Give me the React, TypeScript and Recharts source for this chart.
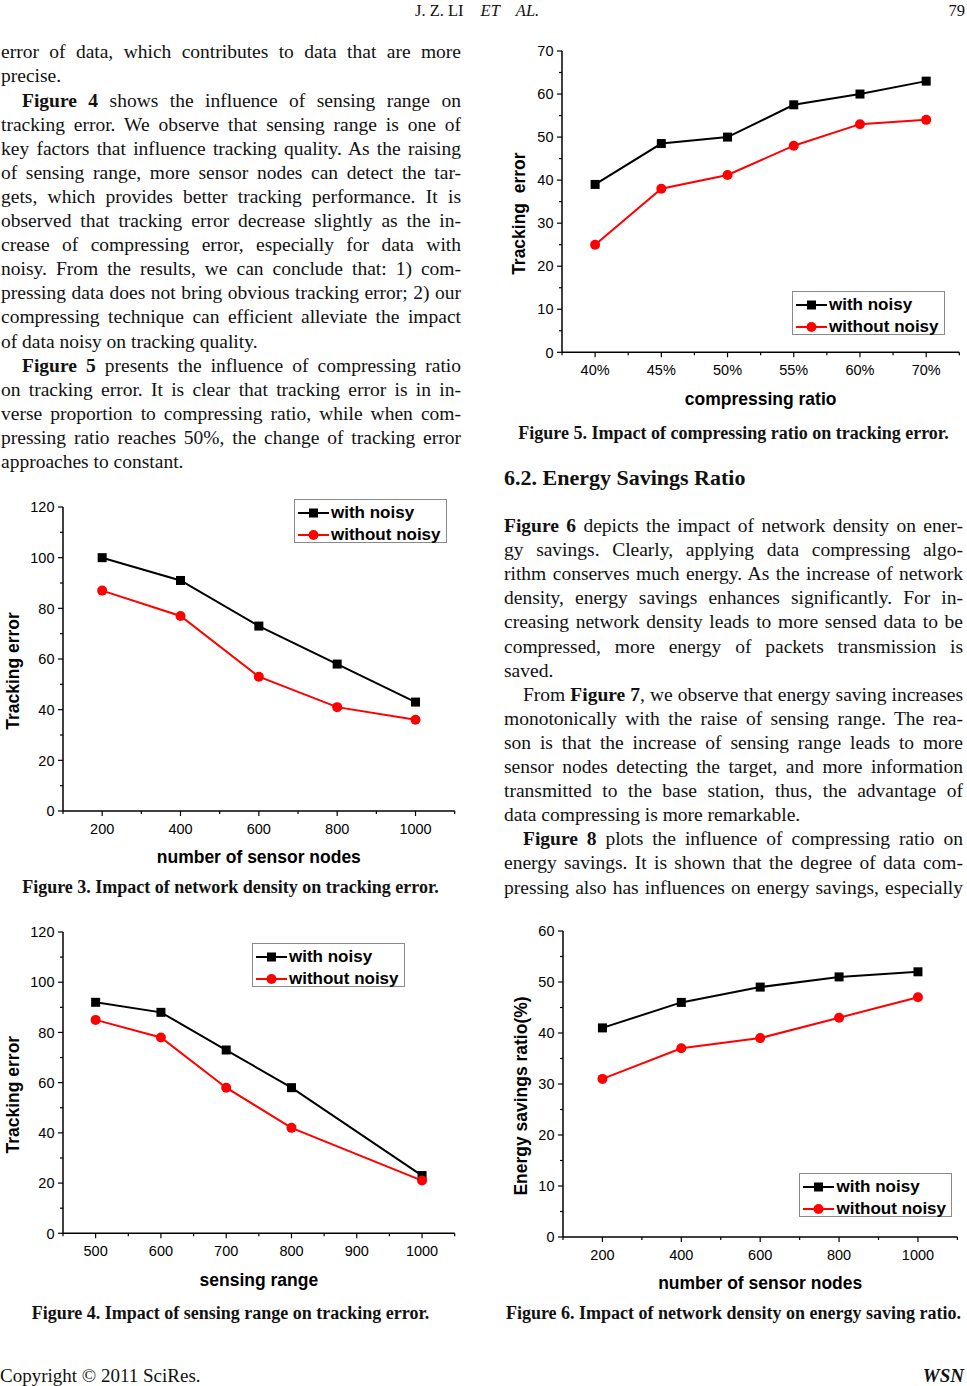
import React from "react"
import { LineChart, Line, XAxis, YAxis, Legend, Label } from "recharts"

const SANS = '"Liberation Sans", Arial, sans-serif'
const SERIF = '"Liberation Serif", "Times New Roman", serif'

// ---- data ----
const nodeCounts = [200, 400, 600, 800, 1000]
const fig3WithNoisy = [100, 91, 73, 58, 43]
const fig3WithoutNoisy = [87, 77, 53, 41, 36]

const sensingRanges = [500, 600, 700, 800, 1000]
const fig4WithNoisy = [92, 88, 73, 58, 23]
const fig4WithoutNoisy = [85, 78, 58, 42, 21]

const ratioLabels = ["40%", "45%", "50%", "55%", "60%", "70%"]
const fig5WithNoisy = [39, 48.5, 50, 57.5, 60, 63]
const fig5WithoutNoisy = [25, 38, 41.2, 48, 53, 54]

const fig6WithNoisy = [41, 46, 49, 51, 52]
const fig6WithoutNoisy = [31, 37, 39, 43, 47]

const SERIES = [
  { key: "withNoisy", name: "with noisy", color: "#000000", marker: "square" },
  { key: "withoutNoisy", name: "without noisy", color: "#ff0000", marker: "circle" },
]

function buildRows(xs: number[], a: number[], b: number[]) {
  return xs.map((x, i) => ({ x, withNoisy: a[i], withoutNoisy: b[i] }))
}

const range = (from: number, to: number, step: number) => {
  const out: number[] = []
  for (let v = from; v <= to + 1e-9; v += step) out.push(Math.round(v * 100) / 100)
  return out
}

// chart box padding around the plot area (px)
const PAD_L = 60
const PAD_T = 20
const PAD_R = 10
const PAD_B = 62

function Marker({ cx, cy, kind, color }: any) {
  if (cx == null || cy == null) return null
  if (kind === "square")
    return <rect x={cx - 4.5} y={cy - 4.5} width={9} height={9} fill={color} />
  return <circle cx={cx} cy={cy} r={5} fill={color} />
}

function NoisyLegend() {
  return (
    <div
      style={{
        position: "relative",
        width: 153,
        height: 44,
        border: "1px solid #8a8a8a",
        boxSizing: "border-box",
        background: "#fff",
        fontFamily: SANS,
        fontWeight: 700,
        fontSize: 17,
        color: "#000",
      }}
    >
      {SERIES.map((s, i) => (
        <div
          key={s.key}
          style={{ position: "absolute", left: 0, top: i === 0 ? 1.5 : 23.5, height: 22, width: 151 }}
        >
          <svg width={34} height={22} style={{ position: "absolute", left: 2, top: 0 }}>
            <line x1={1} x2={32} y1={11} y2={11} stroke={s.color} strokeWidth={2} />
            <Marker cx={16.5} cy={11} kind={s.marker} color={s.color} />
          </svg>
          <span style={{ position: "absolute", left: 36, top: 0, lineHeight: "22px", whiteSpace: "nowrap" }}>
            {s.name}
          </span>
        </div>
      ))}
    </div>
  )
}

interface PanelProps {
  plot: { l: number; t: number; r: number; b: number }
  data: any[]
  xDomain: [number, number]
  xTicks: number[]
  xMajor: number[]
  xFormat?: (v: number) => string
  yDomain: [number, number]
  yTicks: number[]
  yMajor: number[]
  xTitle: string
  yTitle: string
  yTitleGap: number
  legend: { l: number; t: number }
}

function Panel(p: PanelProps) {
  const boxL = p.plot.l - PAD_L
  const boxT = p.plot.t - PAD_T
  const plotW = p.plot.r - p.plot.l
  const plotH = p.plot.b - p.plot.t
  const width = plotW + PAD_L + PAD_R
  const height = plotH + PAD_T + PAD_B
  const axisY = PAD_T + plotH
  const fmt = p.xFormat || ((v: number) => String(v))

  const xTick = (t: any) => {
    const major = p.xMajor.includes(t.payload.value)
    return (
      <g key={`xt-${t.index}`}>
        <line x1={t.x} x2={t.x} y1={axisY} y2={axisY + (major ? 5 : 3)} stroke="#000" strokeWidth={1.2} />
        {major && (
          <text x={t.x} y={axisY + 22.8} textAnchor="middle" fontFamily={SANS} fontSize={14.5} fill="#000">
            {fmt(t.payload.value)}
          </text>
        )}
      </g>
    )
  }

  const yTick = (t: any) => {
    const major = p.yMajor.includes(t.payload.value)
    return (
      <g key={`yt-${t.index}`}>
        <line x1={PAD_L} x2={PAD_L - (major ? 5 : 3)} y1={t.y} y2={t.y} stroke="#000" strokeWidth={1.2} />
        {major && (
          <text x={PAD_L - 8.5} y={t.y} dy="0.36em" textAnchor="end" fontFamily={SANS} fontSize={14.5} fill="#000">
            {t.payload.value}
          </text>
        )}
      </g>
    )
  }

  return (
    <div style={{ position: "absolute", left: boxL, top: boxT }}>
      <LineChart width={width} height={height} data={p.data} margin={{ top: PAD_T, right: PAD_R, left: 0, bottom: 0 }}>
        <XAxis
          type="number"
          dataKey="x"
          domain={p.xDomain}
          ticks={p.xTicks}
          interval={0}
          allowDataOverflow
          height={PAD_B}
          tickLine={false}
          tickSize={5}
          axisLine={{ stroke: "#000", strokeWidth: 1.5 }}
          tick={xTick}
        >
          <Label
            content={() => (
              <text
                x={PAD_L + plotW / 2}
                y={axisY + 46}
                dy="0.36em"
                textAnchor="middle"
                fontFamily={SANS}
                fontWeight={700}
                fontSize={17.5}
                fill="#000"
              >
                {p.xTitle}
              </text>
            )}
          />
        </XAxis>
        <YAxis
          type="number"
          domain={p.yDomain}
          ticks={p.yTicks}
          interval={0}
          allowDataOverflow
          width={PAD_L}
          tickLine={false}
          tickSize={5}
          axisLine={{ stroke: "#000", strokeWidth: 1.5 }}
          tick={yTick}
        >
          <Label
            content={() => {
              const cx = PAD_L - p.yTitleGap
              const cy = PAD_T + plotH / 2 + 12
              return (
                <text
                  x={cx}
                  y={cy}
                  dy="0.36em"
                  transform={`rotate(-90 ${cx} ${cy})`}
                  textAnchor="middle"
                  fontFamily={SANS}
                  fontWeight={700}
                  fontSize={17.5}
                  fill="#000"
                  style={{ whiteSpace: "pre" }}
                >
                  {p.yTitle}
                </text>
              )
            }}
          />
        </YAxis>
        <Legend
          layout="vertical"
          align="center"
          verticalAlign="middle"
          content={() => <NoisyLegend />}
          wrapperStyle={{ left: p.legend.l - boxL, top: p.legend.t - boxT, width: 153, height: 44 }}
        />
        {SERIES.map((s) => (
          <Line
            key={s.key}
            type="linear"
            dataKey={s.key}
            name={s.name}
            stroke={s.color}
            strokeWidth={2}
            isAnimationActive={false}
            activeDot={false}
            dot={(d: any) => <Marker key={`${s.key}-${d.index}`} cx={d.cx} cy={d.cy} kind={s.marker} color={s.color} />}
          />
        ))}
      </LineChart>
    </div>
  )
}

// ---- page text ----
const BODY = 19.5
const LH = 24.1
const baselineOffset = (size: number, lh: number) => (lh - size * 1.107) / 2 + size * 0.891

function TL({ x, w, base, indent = 0, last = false, children }: any) {
  return (
    <div
      style={{
        position: "absolute",
        left: x,
        top: base - baselineOffset(BODY, LH),
        width: w,
        fontSize: BODY,
        lineHeight: `${LH}px`,
        whiteSpace: "nowrap",
        textAlign: last ? "left" : "justify",
        textAlignLast: last ? "left" : "justify",
        textIndent: indent,
      }}
    >
      {children}
    </div>
  )
}

const leftLines: any[] = [
  ["error of data, which contributes to data that are more"],
  ["precise.", "last"],
  [<><b>Figure 4</b> shows the influence of sensing range on</>, "indent"],
  ["tracking error. We observe that sensing range is one of"],
  ["key factors that influence tracking quality. As the raising"],
  ["of sensing range, more sensor nodes can detect the tar-"],
  ["gets, which provides better tracking performance. It is"],
  ["observed that tracking error decrease slightly as the in-"],
  ["crease of compressing error, especially for data with"],
  ["noisy. From the results, we can conclude that: 1) com-"],
  ["pressing data does not bring obvious tracking error; 2) our"],
  ["compressing technique can efficient alleviate the impact"],
  ["of data noisy on tracking quality.", "last"],
  [<><b>Figure 5</b> presents the influence of compressing ratio</>, "indent"],
  ["on tracking error. It is clear that tracking error is in in-"],
  ["verse proportion to compressing ratio, while when com-"],
  ["pressing ratio reaches 50%, the change of tracking error"],
  ["approaches to constant.", "last"],
]

const rightLines: any[] = [
  [<><b>Figure 6</b> depicts the impact of network density on ener-</>],
  ["gy savings. Clearly, applying data compressing algo-"],
  ["rithm conserves much energy. As the increase of network"],
  ["density, energy savings enhances significantly. For in-"],
  ["creasing network density leads to more sensed data to be"],
  ["compressed, more energy of packets transmission is"],
  ["saved.", "last"],
  [<>From <b>Figure 7</b>, we observe that energy saving increases</>, "indent"],
  ["monotonically with the raise of sensing range. The rea-"],
  ["son is that the increase of sensing range leads to more"],
  ["sensor nodes detecting the target, and more information"],
  ["transmitted to the base station, thus, the advantage of"],
  ["data compressing is more remarkable.", "last"],
  [<><b>Figure 8</b> plots the influence of compressing ratio on</>, "indent"],
  ["energy savings. It is shown that the degree of data com-"],
  ["pressing also has influences on energy savings, especially"],
]

function Caption({ cx, base, children }: any) {
  const size = 18
  return (
    <div
      style={{
        position: "absolute",
        left: cx - 250,
        width: 500,
        top: base - baselineOffset(size, 22),
        lineHeight: "22px",
        fontSize: size,
        fontWeight: 700,
        textAlign: "center",
        whiteSpace: "nowrap",
      }}
    >
      {children}
    </div>
  )
}

export default function App() {
  const COL_L = { x: 1, w: 460 }
  const COL_R = { x: 504, w: 459 }
  const headTop = 17 - baselineOffset(16.5, 20)
  return (
    <div
      style={{
        position: "absolute",
        left: 0,
        top: 0,
        width: 967,
        height: 1386,
        overflow: "hidden",
        background: "#fff",
        fontFamily: SERIF,
        color: "#111",
      }}
    >
      {/* running head */}
      <div style={{ position: "absolute", left: 415, top: headTop, fontSize: 16.5, lineHeight: "20px", whiteSpace: "nowrap" }}>
        J. Z. LI<i style={{ marginLeft: 17 }}>ET</i>
        <i style={{ marginLeft: 16 }}>AL.</i>
      </div>
      <div style={{ position: "absolute", right: 2, top: headTop, fontSize: 16.5, lineHeight: "20px" }}>79</div>

      {leftLines.map((l, i) => (
        <TL key={`l${i}`} x={COL_L.x} w={COL_L.w} base={59 + i * LH} indent={l[1] === "indent" ? 21 : 0} last={l[1] === "last"}>
          {l[0]}
        </TL>
      ))}

      <div style={{ position: "absolute", left: COL_R.x, top: 485 - baselineOffset(22, 26), fontSize: 22, lineHeight: "26px", fontWeight: 700, whiteSpace: "nowrap" }}>
        6.2. Energy Savings Ratio
      </div>

      {rightLines.map((l, i) => (
        <TL key={`r${i}`} x={COL_R.x} w={COL_R.w} base={532.7 + i * LH} indent={l[1] === "indent" ? 19 : 0} last={l[1] === "last"}>
          {l[0]}
        </TL>
      ))}

      <Panel
        plot={{ l: 63.3, t: 507, r: 455, b: 811 }}
        data={buildRows(nodeCounts, fig3WithNoisy, fig3WithoutNoisy)}
        xDomain={[100, 1100]}
        xTicks={range(100, 1100, 100)}
        xMajor={[200, 400, 600, 800, 1000]}
        yDomain={[0, 120]}
        yTicks={range(0, 120, 10)}
        yMajor={range(0, 120, 20)}
        xTitle="number of sensor nodes"
        yTitle="Tracking error"
        yTitleGap={50}
        legend={{ l: 294, t: 499 }}
      />
      <Caption cx={230.5} base={893}>Figure 3. Impact of network density on tracking error.</Caption>

      <Panel
        plot={{ l: 63.3, t: 932, r: 455, b: 1233.3 }}
        data={buildRows(sensingRanges, fig4WithNoisy, fig4WithoutNoisy)}
        xDomain={[450, 1050]}
        xTicks={range(450, 1050, 50)}
        xMajor={[500, 600, 700, 800, 900, 1000]}
        yDomain={[0, 120]}
        yTicks={range(0, 120, 10)}
        yMajor={range(0, 120, 20)}
        xTitle="sensing range"
        yTitle="Tracking error"
        yTitleGap={50}
        legend={{ l: 252, t: 943 }}
      />
      <Caption cx={230.5} base={1319}>Figure 4. Impact of sensing range on tracking error.</Caption>

      <Panel
        plot={{ l: 561.7, t: 51, r: 959, b: 352.3 }}
        data={ratioLabels.map((_, i) => ({ x: i, withNoisy: fig5WithNoisy[i], withoutNoisy: fig5WithoutNoisy[i] }))}
        xDomain={[-0.5, 5.5]}
        xTicks={range(-0.5, 5.5, 0.5)}
        xMajor={ratioLabels.map((_, i) => i)}
        xFormat={(v) => ratioLabels[v]}
        yDomain={[0, 70]}
        yTicks={range(0, 70, 5)}
        yMajor={range(0, 70, 10)}
        xTitle="compressing ratio"
        yTitle="Tracking  error"
        yTitleGap={43.4}
        legend={{ l: 792, t: 291 }}
      />
      <Caption cx={733.5} base={439}>Figure 5. Impact of compressing ratio on tracking error.</Caption>

      <Panel
        plot={{ l: 563.3, t: 930.7, r: 957.7, b: 1236.7 }}
        data={buildRows(nodeCounts, fig6WithNoisy, fig6WithoutNoisy)}
        xDomain={[100, 1100]}
        xTicks={range(100, 1100, 100)}
        xMajor={[200, 400, 600, 800, 1000]}
        yDomain={[0, 60]}
        yTicks={range(0, 60, 5)}
        yMajor={range(0, 60, 10)}
        xTitle="number of sensor nodes"
        yTitle="Energy savings ratio(%)"
        yTitleGap={42.6}
        legend={{ l: 799.5, t: 1173.5 }}
      />
      <Caption cx={733.5} base={1319}>Figure 6. Impact of network density on energy saving ratio.</Caption>

      {/* footer */}
      <div style={{ position: "absolute", left: 0, top: 1382 - baselineOffset(19, 22), fontSize: 19, lineHeight: "22px", whiteSpace: "nowrap" }}>
        Copyright © 2011 SciRes.
      </div>
      <div style={{ position: "absolute", right: 3, top: 1382 - baselineOffset(19, 22), fontSize: 19, lineHeight: "22px", fontWeight: 700, fontStyle: "italic" }}>
        WSN
      </div>
    </div>
  )
}
